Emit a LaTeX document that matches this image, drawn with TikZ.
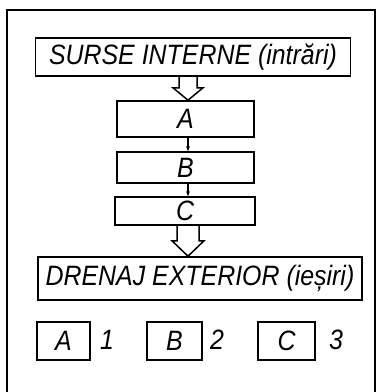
\documentclass[tikz,border=0pt]{standalone}
\usepackage{fontspec}
\setmainfont[FakeStretch=0.89]{Liberation Sans}
\usetikzlibrary{calc,arrows.meta}
\begin{document}
\begin{tikzpicture}[x=1pt,y=-1pt,line width=1.6pt,
  box/.style={draw,rectangle,inner sep=0pt,font=\fontsize{28}{28}\selectfont\itshape},
  lbl/.style={inner sep=0pt,font=\fontsize{28}{28}\selectfont\itshape},
  hollow/.style={draw,line width=1.5pt,line join=miter},
  small/.style={line width=1.2pt,-{Stealth[length=5pt,width=4pt]}}]
\useasboundingbox (0,0) rectangle (377,392);
% frame
\draw[line width=1.4pt] (7,392) -- (7,10) -- (375,10) -- (375,392);
% boxes
\node[box,minimum width=315pt,minimum height=38pt] (top) at (193,57) {SURSE INTERNE (intrări)};
\node[box,minimum width=137pt,minimum height=36pt] (A) at (185.5,119) {A};
\node[box,minimum width=137pt,minimum height=31pt] (B) at (185.5,167.5) {B};
\node[box,minimum width=140pt,minimum height=28pt] (C) at (185,211) {C};
\node[box,minimum width=324pt,minimum height=43pt] (D) at (200,278.5) {DRENAJ EXTERIOR (ieșiri)};
\node[box,minimum width=53pt,minimum height=38pt] (a1) at (63.5,341) {A};
\node[box,minimum width=55pt,minimum height=38pt] (b2) at (174.5,341) {B};
\node[box,minimum width=57pt,minimum height=38pt] (c3) at (286.5,341) {C};
\node[lbl] (n1) at (107,340) {1};
\node[lbl] (n2) at (217,340) {2};
\node[lbl] (n3) at (336,340) {3};
% hollow arrows
\coordinate (s1) at (top.south -| 188,0);
\coordinate (e1) at (A.north -| 188,0);
\draw[hollow] ($(s1)+(-9,0)$) -- ($(s1)+(-9,11)$) -- ($(s1)+(-15,11)$) -- (e1)
  -- ($(s1)+(15,11)$) -- ($(s1)+(9,11)$) -- ($(s1)+(9,0)$);
\coordinate (s2) at (C.south -| 188,0);
\coordinate (e2) at (D.north -| 188,0);
\draw[hollow] ($(s2)+(-11,0)$) -- ($(s2)+(-11,15)$) -- ($(s2)+(-16,15)$) -- (e2)
  -- ($(s2)+(16,15)$) -- ($(s2)+(11,15)$) -- ($(s2)+(11,0)$);
% small arrows
\draw[small] (A.south -| 188,0) -- (B.north -| 188,0);
\draw[small] (B.south -| 188,0) -- (C.north -| 188,0);
\end{tikzpicture}
\end{document}
